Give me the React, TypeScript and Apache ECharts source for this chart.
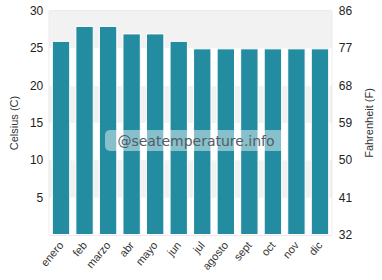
import React, { useEffect, useRef } from "react";
import * as echarts from "echarts";

const months = ["enero", "feb", "marzo", "abr", "mayo", "jun", "jul", "agosto", "sept", "oct", "nov", "dic"];
const celsius = [26, 28, 28, 27, 27, 26, 25, 25, 25, 25, 25, 25];
const fahrenheitLabels: Record<number, string> = { 0: "32", 5: "41", 10: "50", 15: "59", 20: "68", 25: "77", 30: "86" };

export default function App() {
  const ref = useRef<HTMLDivElement>(null);
  useEffect(() => {
    document.body.style.margin = "0";
    if (!ref.current) return;
    const chart = echarts.init(ref.current, undefined, { renderer: "svg" });
    const font = "Liberation Sans, Arial, sans-serif";
    chart.setOption({
      animation: false,
      grid: { left: 40, right: 41, top: 11, bottom: 45, show: true, borderColor: "#d6d6d6", borderWidth: 1, backgroundColor: "transparent" },
      xAxis: {
        type: "category",
        data: months,
        axisLine: { show: false },
        axisTick: { show: false },
        axisLabel: { rotate: 50, fontSize: 11, color: "#333", fontFamily: font, margin: 8, interval: 0 },
      },
      yAxis: [
        {
          type: "value",
          min: 0,
          max: 30,
          interval: 5,
          name: "Celsius (C)",
          nameLocation: "middle",
          nameGap: 27,
          nameTextStyle: { fontSize: 11, color: "#333", fontFamily: font },
          axisLine: { show: false },
          axisTick: { show: false },
          splitLine: { show: false },
          splitArea: { show: true, areaStyle: { color: ["#ffffff", "#f2f2f2"] } },
          axisLabel: { fontSize: 12, color: "#222", fontFamily: font, showMinLabel: false, margin: 6 },
        },
        {
          type: "value",
          min: 0,
          max: 30,
          interval: 5,
          position: "right",
          name: "Fahrenheit (F)",
          nameLocation: "middle",
          nameGap: 28,
          nameRotate: 90,
          nameTextStyle: { fontSize: 11, color: "#333", fontFamily: font },
          axisLine: { show: false },
          axisTick: { show: false },
          splitLine: { show: false },
          axisLabel: { fontSize: 12, color: "#222", fontFamily: font, margin: 7, formatter: (v: number) => fahrenheitLabels[v] ?? "" },
        },
      ],
      series: [
        {
          type: "bar",
          data: celsius,
          barCategoryGap: "22%",
          itemStyle: { color: "#248ca0", borderColor: "#ffffff", borderWidth: 1 },
        },
      ],
      graphic: [
        {
          type: "rect",
          z: 100,
          shape: { x: 105, y: 130, width: 182, height: 21, r: 5 },
          style: { fill: "rgba(255,255,255,0.45)" },
        },
        {
          type: "text",
          z: 101,
          x: 196,
          y: 141,
          style: { text: "@seatemperature.info", fontSize: 14, fill: "#555a66", fontFamily: "DejaVu Sans", align: "center", verticalAlign: "middle" },
        },
      ],
    });
    return () => chart.dispose();
  }, []);
  return <div ref={ref} style={{ width: 382, height: 280 }} />;
}
